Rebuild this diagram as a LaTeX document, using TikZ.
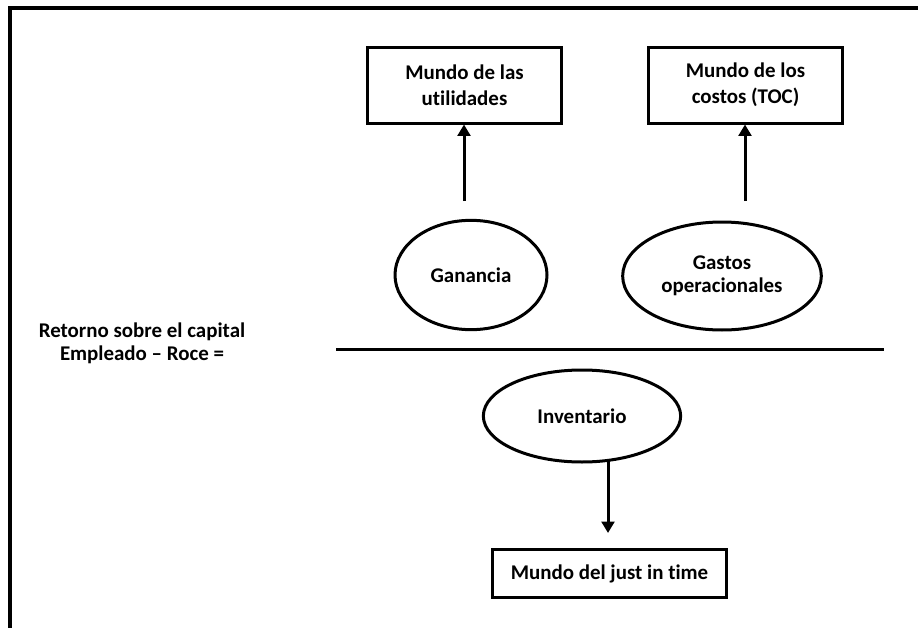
\documentclass[tikz,border=0pt]{standalone}
\usepackage{fontspec}
\setmainfont[Ligatures=NoCommon]{Carlito}
\usetikzlibrary{shapes.geometric,arrows.meta}
\begin{document}
\begin{tikzpicture}[x=0.75pt,y=-0.75pt,
  every node/.style={font=\bfseries\fontsize{15.7}{17.5}\selectfont, align=center, inner sep=0pt},
  roomy/.style={font=\bfseries\fontsize{15.7}{19.5}\selectfont},
  worldbox/.style={draw, line width=2.25pt, minimum width=#1},
  oval/.style={draw, ellipse, line width=2.25pt},
  flow/.style={line width=2.25pt, -{Triangle[width=9.5pt,length=8.5pt]}}]
  \useasboundingbox (0,0) rectangle (918,628);
  % open frame: top and left edges only
  \draw[line width=3pt] (10,628) -- (10,8) -- (918,8);

  % upper boxes
  \node[worldbox=145pt, minimum height=57pt, roomy] (util) at (464.5,85) {Mundo de las\\utilidades};
  \node[worldbox=146pt, minimum height=57pt, roomy] (costos) at (745.5,85) {Mundo de los\\costos (TOC)};

  % upper ovals
  \node[oval, minimum width=114pt, minimum height=82pt] (ganancia) at (471,275) {Ganancia};
  \node[oval, minimum width=149pt, minimum height=81pt] (gastos) at (722,276) {Gastos\\operacionales};

  % arrows up into the boxes
  \coordinate (g1) at (464,201);
  \coordinate (g2) at (745,201);
  \draw[flow] (g1) -- (util.south -| g1);
  \draw[flow] (g2) -- (costos.south -| g2);

  % left label
  \node (roce) at (142,343) {Retorno sobre el capital\\Empleado -- Roce =};

  % dividing line
  \coordinate (divL) at (336,349);
  \coordinate (divR) at (884,349);
  \draw[line width=2.25pt] (divL) -- (divR);

  % lower oval and box
  \node[oval, minimum width=148pt, minimum height=69pt] (inv) at (582,416) {Inventario};
  \node[worldbox=176pt, minimum height=36pt] (jit) at (609.5,573.5) {Mundo del just in time};
  \coordinate (jitTip) at (608,533);
  \draw[flow] (inv.south -| jitTip) ++(0,-3) -- (jitTip);
\end{tikzpicture}
\end{document}
